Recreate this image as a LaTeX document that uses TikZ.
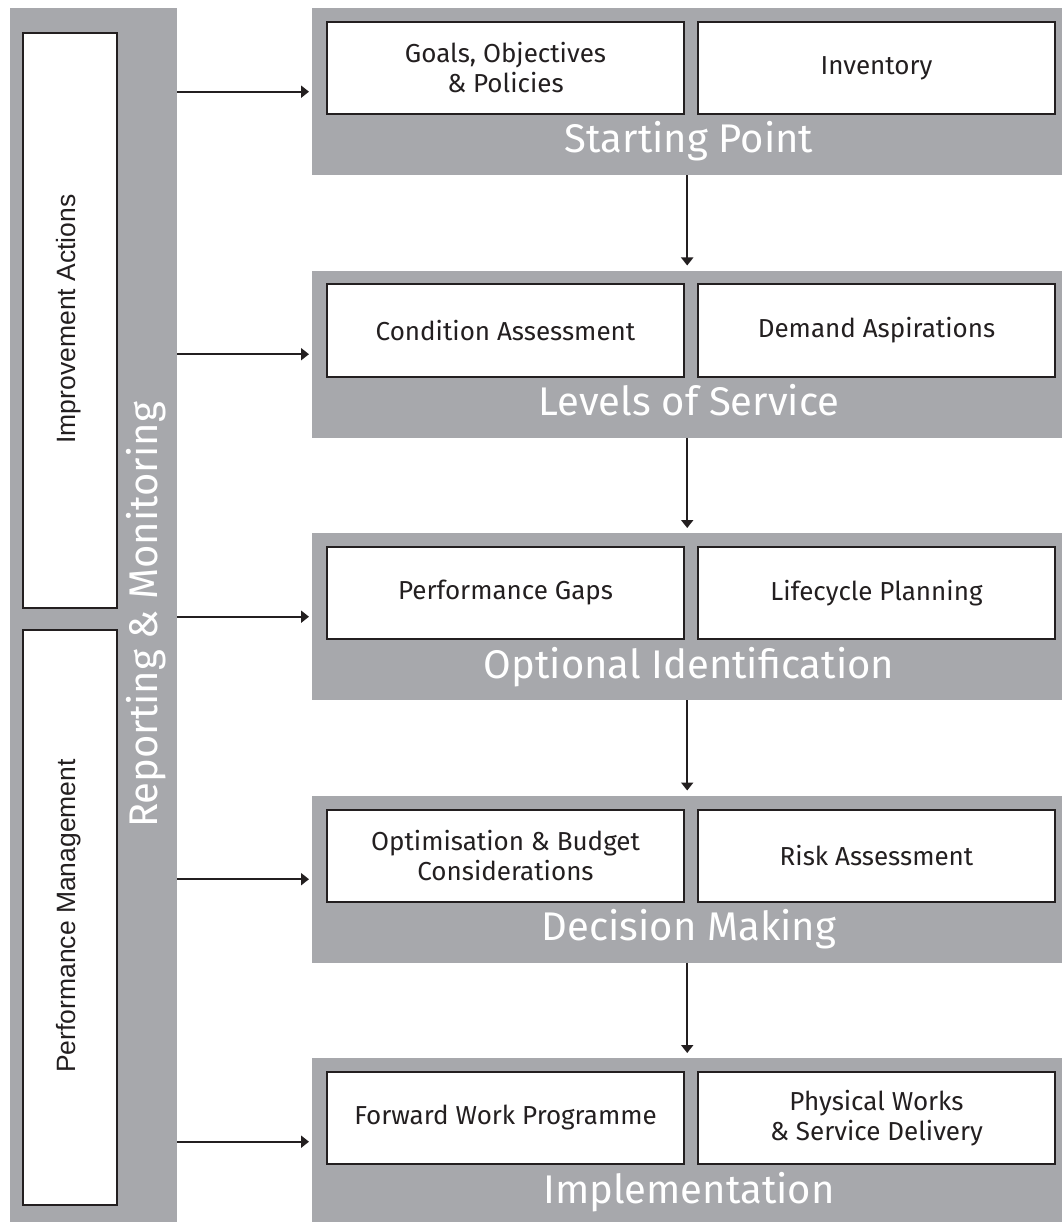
\documentclass[tikz,border=0pt]{standalone}
\usepackage{fontspec}
\setmainfont{Fira Sans}
\newfontfamily\sidefont{Liberation Sans}
\usetikzlibrary{arrows.meta}
\definecolor{panelgray}{HTML}{A7A8AC}
\definecolor{ink}{HTML}{231F20}

\begin{document}
\begin{tikzpicture}[x=1pt,y=-1pt,
  panel/.style={fill=panelgray, draw=none, anchor=north west, inner sep=0pt,
    minimum width=750pt, minimum height=167pt},
  item/.style={draw=ink, line width=2pt, fill=white, anchor=north west,
    minimum width=357pt, minimum height=92pt, inner sep=0pt, align=center,
    text=ink, font=\fontsize{26}{30}\selectfont},
  stagetitle/.style={text=white, anchor=base, inner sep=0pt,
    font=\fontsize{40}{44}\selectfont},
  sidebox/.style={draw=ink, line width=2pt, fill=white, anchor=north west,
    minimum width=94pt, minimum height=575pt, inner sep=0pt},
  sidelabel/.style={rotate=90, anchor=base, inner sep=0pt, text=ink,
    font=\sidefont\fontsize{26.5}{30}\selectfont},
  flow/.style={draw=ink, line width=2pt, -{Triangle[length=8pt,width=12pt]}},
]
\useasboundingbox (0,0) rectangle (1062,1222);

% left column: reporting and monitoring
\node[fill=panelgray, anchor=north west, inner sep=0pt,
  minimum width=167pt, minimum height=1214pt] (lp) at (10,8) {};
\node[sidebox] (ia) at (22,32) {};
\node[sidebox] (pm) at (22,629) {};
\node[sidelabel] (ial) at (75,319) {Improvement Actions};
\node[sidelabel] (pml) at (75,916) {Performance Management};
\node[rotate=90, anchor=base, inner sep=0pt, text=white,
  font=\fontsize{40}{44}\selectfont] (rm) at (157,615) {Reporting \& Monitoring};

% process stages
\foreach \i/\t/\a/\b/\n in {
  1/8/{Goals, Objectives\\\& Policies}/{Inventory}/{Starting Point},
  2/270.5/{Condition Assessment}/{Demand Aspirations}/{Levels of Service},
  3/533/{Performance Gaps}/{Lifecycle Planning}/{Optional Identification},
  4/795.5/{Optimisation \& Budget\\Considerations}/{Risk Assessment}/{Decision Making},
  5/1058/{Forward Work Programme}/{Physical Works\\\& Service Delivery}/{Implementation}}{
  \node[panel] (p\i) at (312,\t) {};
  \node[item] (a\i) at (326,\t+13) {\a};
  \node[item] (b\i) at (697,\t+13) {\b};
  \node[stagetitle] (t\i) at (689,\t+145) {\n};
  \draw[flow, shorten >=3pt] (lp.east |- p\i.west) -- (p\i.west);
}

% flow between stages
\foreach \i/\j in {1/2,2/3,3/4,4/5}{
  \draw[flow, shorten >=5pt] (p\i.south) -- (p\j.north);
}
\end{tikzpicture}
\end{document}
